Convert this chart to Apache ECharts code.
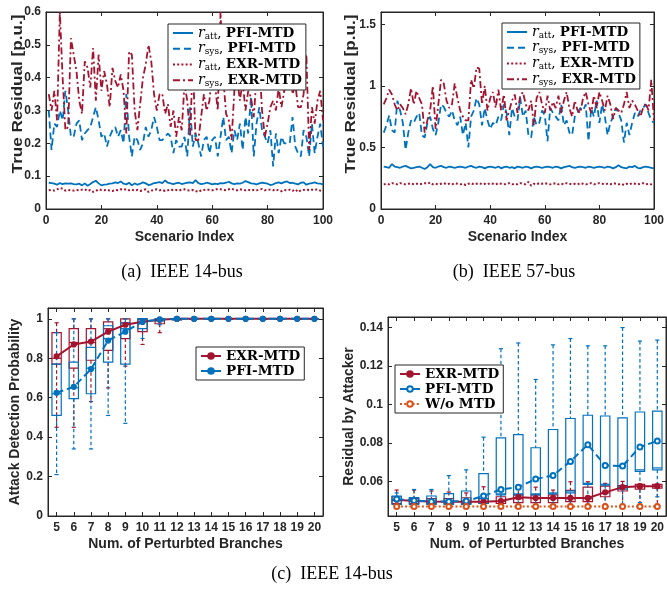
<!DOCTYPE html>
<html>
<head>
<meta charset="utf-8">
<script src="https://cdn.jsdelivr.net/npm/echarts@6/dist/echarts.min.js"></script>
<style>
  html, body { margin: 0; padding: 0; background: #fff; }
  #chart { width: 667px; height: 590px; }
</style>
</head>
<body>
<div id="chart"></div>
<script>
// ---------- (a) IEEE 14-bus: true residual per scenario ----------
const aPfiAtt = [
  0.080,0.079,0.077,0.074,0.079,0.076,0.078,0.077,0.078,0.076,
  0.075,0.077,0.072,0.078,0.071,0.076,0.082,0.086,0.078,0.072,
  0.074,0.075,0.077,0.078,0.081,0.079,0.084,0.077,0.075,0.080,
  0.072,0.078,0.074,0.077,0.081,0.078,0.073,0.075,0.079,0.080,
  0.082,0.079,0.087,0.080,0.078,0.076,0.079,0.080,0.076,0.078,
  0.080,0.081,0.079,0.088,0.079,0.076,0.077,0.080,0.078,0.075,
  0.077,0.076,0.079,0.078,0.080,0.083,0.078,0.076,0.078,0.077,
  0.080,0.085,0.082,0.078,0.077,0.075,0.078,0.080,0.079,0.077,
  0.073,0.075,0.079,0.081,0.078,0.082,0.084,0.079,0.080,0.077,
  0.075,0.080,0.081,0.074,0.077,0.079,0.081,0.078,0.077,0.075
];
const aPfiSys = [
  0.30,0.18,0.26,0.25,0.30,0.27,0.36,0.30,0.22,0.22,
  0.26,0.27,0.21,0.23,0.24,0.25,0.28,0.31,0.27,0.22,
  0.23,0.19,0.22,0.24,0.25,0.22,0.24,0.20,0.35,0.22,
  0.16,0.22,0.21,0.18,0.20,0.25,0.22,0.24,0.28,0.25,
  0.21,0.21,0.22,0.23,0.22,0.17,0.21,0.19,0.19,0.22,
  0.16,0.31,0.19,0.23,0.20,0.16,0.21,0.22,0.17,0.21,
  0.22,0.16,0.22,0.28,0.21,0.22,0.17,0.24,0.21,0.26,
  0.18,0.28,0.23,0.34,0.16,0.26,0.31,0.24,0.22,0.20,
  0.24,0.13,0.23,0.17,0.22,0.20,0.20,0.20,0.28,0.19,
  0.17,0.16,0.24,0.22,0.16,0.26,0.17,0.22,0.26,0.19
];
const aExrAtt = [
  0.057,0.058,0.056,0.060,0.064,0.062,0.056,0.058,0.057,0.056,
  0.058,0.057,0.059,0.060,0.055,0.058,0.052,0.055,0.060,0.058,
  0.057,0.059,0.056,0.055,0.058,0.057,0.060,0.058,0.061,0.057,
  0.059,0.056,0.058,0.055,0.057,0.060,0.052,0.056,0.058,0.060,
  0.057,0.058,0.055,0.057,0.060,0.057,0.058,0.056,0.059,0.060,
  0.057,0.056,0.058,0.055,0.052,0.057,0.058,0.060,0.058,0.057,
  0.059,0.061,0.060,0.058,0.057,0.060,0.062,0.058,0.057,0.060,
  0.058,0.057,0.059,0.056,0.058,0.057,0.059,0.061,0.057,0.058,
  0.059,0.057,0.060,0.056,0.054,0.058,0.057,0.059,0.055,0.060,
  0.052,0.057,0.058,0.060,0.057,0.059,0.058,0.060,0.056,0.054
];
const aExrSys = [
  0.35,0.30,0.36,0.27,0.60,0.40,0.24,0.25,0.52,0.47,
  0.42,0.33,0.29,0.45,0.43,0.37,0.49,0.33,0.47,0.36,
  0.42,0.38,0.31,0.43,0.39,0.37,0.41,0.36,0.23,0.48,
  0.47,0.30,0.24,0.32,0.40,0.44,0.50,0.45,0.35,0.30,
  0.35,0.35,0.29,0.32,0.25,0.30,0.22,0.28,0.24,0.38,
  0.33,0.22,0.45,0.21,0.21,0.28,0.35,0.30,0.33,0.42,
  0.38,0.30,0.60,0.40,0.29,0.27,0.21,0.36,0.40,0.33,
  0.39,0.30,0.36,0.34,0.28,0.40,0.45,0.30,0.22,0.26,
  0.31,0.33,0.30,0.37,0.31,0.36,0.38,0.44,0.35,0.38,
  0.31,0.31,0.35,0.47,0.18,0.31,0.26,0.33,0.36,0.27
];

// ---------- (b) IEEE 57-bus: true residual per scenario ----------
const bPfiAtt = [
  0.345,0.340,0.335,0.365,0.345,0.340,0.335,0.345,0.350,0.340,
  0.330,0.335,0.340,0.345,0.335,0.325,0.340,0.365,0.340,0.335,
  0.345,0.350,0.340,0.335,0.345,0.340,0.335,0.340,0.345,0.340,
  0.335,0.345,0.350,0.340,0.335,0.345,0.340,0.330,0.340,0.345,
  0.340,0.335,0.345,0.330,0.340,0.345,0.335,0.340,0.330,0.345,
  0.340,0.335,0.345,0.340,0.330,0.340,0.345,0.340,0.335,0.340,
  0.345,0.340,0.335,0.345,0.340,0.330,0.340,0.345,0.350,0.340,
  0.335,0.340,0.345,0.340,0.335,0.345,0.340,0.335,0.340,0.345,
  0.340,0.335,0.345,0.340,0.330,0.340,0.355,0.340,0.335,0.330,
  0.345,0.340,0.350,0.335,0.330,0.340,0.345,0.340,0.335,0.330
];
const bPfiSys = [
  0.62,0.68,0.76,0.64,0.62,0.88,0.80,0.70,0.48,0.62,
  0.72,0.70,0.75,0.78,0.60,0.58,0.70,0.75,0.65,0.60,
  0.70,0.85,0.83,0.78,0.75,0.80,0.72,0.68,0.75,0.60,
  0.70,0.50,0.75,0.80,0.90,0.85,0.68,0.82,0.72,0.65,
  0.70,0.68,0.75,0.72,0.85,0.78,0.60,0.82,0.75,0.72,
  0.90,0.75,0.80,0.60,0.58,0.75,0.68,0.70,0.80,0.76,
  0.55,0.82,0.78,0.75,0.72,0.85,0.68,0.72,0.62,0.60,
  0.75,0.78,0.82,0.80,0.85,0.55,0.82,0.75,0.88,0.70,
  0.85,0.75,0.60,0.70,0.75,0.82,0.78,0.72,0.54,0.70,
  0.60,0.70,0.78,0.75,0.80,0.82,0.85,0.78,0.72,0.70
];
const bExrAtt = [
  0.200,0.205,0.200,0.210,0.205,0.200,0.210,0.205,0.200,0.205,
  0.210,0.200,0.205,0.200,0.205,0.210,0.205,0.215,0.200,0.205,
  0.200,0.205,0.210,0.200,0.205,0.200,0.210,0.205,0.200,0.205,
  0.195,0.205,0.210,0.200,0.205,0.210,0.200,0.205,0.200,0.210,
  0.205,0.200,0.210,0.205,0.200,0.205,0.210,0.200,0.205,0.200,
  0.210,0.205,0.200,0.220,0.190,0.205,0.200,0.210,0.205,0.210,
  0.205,0.200,0.205,0.210,0.200,0.205,0.200,0.210,0.205,0.200,
  0.205,0.200,0.210,0.205,0.200,0.205,0.210,0.200,0.205,0.210,
  0.205,0.200,0.205,0.200,0.210,0.205,0.200,0.205,0.195,0.205,
  0.200,0.210,0.205,0.200,0.205,0.210,0.200,0.205,0.200,0.205
];
const bExrSys = [
  0.85,0.90,0.97,0.93,0.85,0.80,0.85,0.82,0.77,0.85,
  0.98,0.85,0.96,0.90,0.85,0.62,0.72,0.80,1.00,0.65,
  0.85,1.05,1.02,0.88,0.82,0.85,1.02,0.90,0.80,0.75,
  0.72,0.72,1.05,0.98,1.15,1.14,0.85,1.00,0.80,0.90,
  0.95,0.82,0.97,0.80,0.93,0.72,0.80,0.88,0.93,0.78,
  0.92,0.95,0.85,0.80,0.88,0.68,0.90,0.95,0.85,0.78,
  0.92,0.80,0.87,0.82,0.92,0.78,0.88,0.95,0.82,0.75,
  0.88,0.80,0.78,0.90,0.95,0.85,0.78,0.92,0.82,0.95,
  0.88,0.80,0.92,0.85,0.73,0.82,0.80,0.78,0.85,0.95,
  0.82,0.88,0.85,0.80,0.75,0.82,0.86,0.80,1.05,0.72
];

// ---------- (c) IEEE 14-bus: detection probability / attacker residual ----------
const branchCounts = ['5','6','7','8','9','10','11','12','13','14','15','16','17','18','19','20'];

// box rows: [lower whisker, q1, median, q3, upper whisker]
const cExrBox = [
  [0.45,0.77,0.80,0.93,0.98],[0.45,0.75,0.88,0.95,1.00],[0.58,0.79,0.88,0.95,1.00],
  [0.65,0.84,0.95,0.985,1.00],[0.76,0.90,0.98,1.00,1.00],[0.87,0.935,1.00,1.00,1.00],
  [0.93,0.975,1.00,1.00,1.00],[0.99,0.995,1.00,1.00,1.00],[1,1,1,1,1],[1,1,1,1,1],
  [1,1,1,1,1],[1,1,1,1,1],[1,1,1,1,1],[1,1,1,1,1],[1,1,1,1,1],[1,1,1,1,1]
];
const cPfiBox = [
  [0.21,0.51,0.62,0.77,0.93],[0.34,0.595,0.65,0.78,1.00],[0.34,0.62,0.75,0.855,1.00],
  [0.51,0.78,0.90,0.965,1.00],[0.47,0.77,0.95,0.98,1.00],[0.90,0.95,1.00,1.00,1.00],
  [0.97,0.99,1.00,1.00,1.00],[0.99,0.995,1.00,1.00,1.00],[1,1,1,1,1],[1,1,1,1,1],
  [1,1,1,1,1],[1,1,1,1,1],[1,1,1,1,1],[1,1,1,1,1],[1,1,1,1,1],[1,1,1,1,1]
];
const cExrMean = [0.81,0.87,0.885,0.935,0.97,0.985,0.995,1,1,1,1,1,1,1,1,1];
const cPfiMean = [0.625,0.655,0.745,0.89,0.935,0.985,0.997,1,1,1,1,1,1,1,1,1];

const dExrBox = [
  [0.048,0.0485,0.0500,0.0520,0.0555],[0.048,0.0485,0.0495,0.0510,0.0555],
  [0.048,0.0485,0.0495,0.0510,0.0550],[0.048,0.0485,0.0495,0.0510,0.0545],
  [0.048,0.0485,0.0495,0.0515,0.0540],[0.048,0.0485,0.0495,0.0510,0.0572],
  [0.048,0.0485,0.0495,0.0520,0.0568],[0.048,0.0490,0.0510,0.0530,0.0582],
  [0.048,0.0490,0.0510,0.0530,0.0570],[0.048,0.0490,0.0510,0.0530,0.0555],
  [0.048,0.0495,0.0510,0.0553,0.0598],[0.048,0.0495,0.0510,0.0570,0.0598],
  [0.048,0.0520,0.0540,0.0575,0.0590],[0.048,0.0550,0.0570,0.0578,0.0600],
  [0.048,0.0560,0.0575,0.0585,0.0585],[0.048,0.0565,0.0575,0.0585,0.0585]
];
const dPfiBox = [
  [0.0475,0.0480,0.0505,0.0524,0.0540],[0.0475,0.0480,0.0495,0.0516,0.0558],
  [0.0475,0.0480,0.0495,0.0524,0.0558],[0.0475,0.0480,0.0495,0.0536,0.0630],
  [0.0475,0.0480,0.0495,0.0550,0.0660],[0.0475,0.0485,0.0510,0.0640,0.0830],
  [0.0480,0.0530,0.0535,0.0826,0.1290],[0.0480,0.0530,0.0535,0.0843,0.1320],
  [0.0480,0.0530,0.0535,0.0775,0.1130],[0.0480,0.0535,0.0540,0.0870,0.1310],
  [0.0480,0.0540,0.0550,0.0927,0.1343],[0.0480,0.0584,0.0590,0.0944,0.1305],
  [0.0480,0.0580,0.0585,0.0940,0.1305],[0.0480,0.0560,0.0570,0.0930,0.1400],
  [0.0490,0.0652,0.0660,0.0961,0.1330],[0.0520,0.0660,0.0670,0.0965,0.1335]
];
const dExrMean = [0.0505,0.0498,0.0495,0.0494,0.0494,0.0494,0.0498,0.0518,0.0513,0.0514,0.0514,0.0514,0.0543,0.0570,0.0575,0.0575];
const dPfiMean = [0.0508,0.0500,0.0496,0.0496,0.0498,0.0524,0.0558,0.0570,0.0612,0.0631,0.0704,0.0791,0.0683,0.0680,0.0779,0.0810];
const dNoMtd  = [0.047,0.047,0.047,0.047,0.047,0.047,0.047,0.047,0.047,0.047,0.047,0.047,0.047,0.047,0.047,0.047];

// ---------- styling ----------
const BLUE = '#0072BD', RED = '#A2142F', ORANGE = '#D95319', INK = '#262626';
const SANS = '"Liberation Sans", Arial, sans-serif';
const SERIF = '"DejaVu Serif", serif';

const grids = [
  { left: 46,  top: 12,  width: 277, height: 197 },
  { left: 381, top: 12,  width: 277, height: 197 },
  { left: 48,  top: 308, width: 275, height: 208 },
  { left: 388, top: 317, width: 278, height: 199 }
].map(g => Object.assign({ show: true, borderColor: INK, borderWidth: 1, backgroundColor: '#fff' }, g));

function ticks(cat) {
  return { show: true, inside: true, length: 4, alignWithLabel: !!cat, interval: 0, lineStyle: { color: INK, width: 1 } };
}
const axisLine = { show: true, onZero: false, lineStyle: { color: INK, width: 1 } };
const tickFont = { color: INK, fontFamily: SANS, fontWeight: 'bold', fontSize: 12 };
const titleFont = { color: INK, fontFamily: SANS, fontWeight: 'bold', fontSize: 14 };

function xAxes(gi, scale, cat, name, nameGap) {
  return [
    Object.assign({ gridIndex: gi, position: 'bottom', axisLine, axisTick: ticks(cat),
      axisLabel: Object.assign({ margin: 6, interval: 0 }, tickFont), splitLine: { show: false },
      name, nameLocation: 'middle', nameGap, nameTextStyle: titleFont }, scale),
    Object.assign({ gridIndex: gi, position: 'top', axisLine, axisTick: ticks(cat),
      axisLabel: { show: false }, splitLine: { show: false } }, scale)
  ];
}
function yAxes(gi, scale, labelExtra, name, nameGap) {
  const left = Object.assign({ gridIndex: gi, position: 'left', axisLine, axisTick: ticks(false),
    axisLabel: Object.assign({ margin: 5 }, tickFont, labelExtra || {}), splitLine: { show: false } }, scale);
  if (name) Object.assign(left, { name, nameLocation: 'middle', nameGap, nameTextStyle: titleFont });
  return [left,
    Object.assign({ gridIndex: gi, position: 'right', axisLine, axisTick: ticks(false),
      axisLabel: { show: false }, splitLine: { show: false } }, scale)];
}

const xAxis = [].concat(
  xAxes(0, { type: 'value', min: 0, max: 100, interval: 20 }, false, 'Scenario Index', 21),
  xAxes(1, { type: 'value', min: 0, max: 100, interval: 20 }, false, 'Scenario Index', 21),
  xAxes(2, { type: 'category', data: branchCounts, boundaryGap: true }, true, 'Num. of Perturbted Branches', 21),
  xAxes(3, { type: 'category', data: branchCounts, boundaryGap: true }, true, 'Num. of Perturbted Branches', 21)
);
const yAxis = [].concat(
  yAxes(0, { type: 'value', min: 0, max: 0.6, interval: 0.1 }),
  yAxes(1, { type: 'value', min: 0, max: 1.6, interval: 0.5 }, { showMaxLabel: false }),
  yAxes(2, { type: 'value', min: 0, max: 1.055, interval: 0.2 }, { showMaxLabel: false },
        'Attack Detection Probability', 24),
  yAxes(3, { type: 'value', min: 0.042, max: 0.1455, minInterval: 0.02, maxInterval: 0.02 },
        { showMinLabel: false, showMaxLabel: false }, 'Residual by Attacker', 30)
);

const pairs = arr => arr.map((v, i) => [i + 1, v]);

function scenarioLine(name, gi, arr, color, type, width) {
  return { type: 'line', name, xAxisIndex: gi * 2, yAxisIndex: gi * 2, data: pairs(arr),
    symbol: 'none', showSymbol: false, clip: true, silent: true,
    lineStyle: { color, width: width || 1.8, type }, itemStyle: { color } };
}

// Box-and-whisker outlines: solid box and median, dashed whiskers, short solid caps.
function boxRenderer(color) {
  return function (params, api) {
    const i = api.value(0);
    const pt = k => api.coord([i, api.value(k)]);
    const lo = pt(1), q1 = pt(2), md = pt(3), q3 = pt(4), hi = pt(5);
    const band = api.size([1, 0])[0];
    const half = band * 0.27, cap = band * 0.12, cx = lo[0];
    const solid = { stroke: color, lineWidth: 1.2 };
    const dashed = { stroke: color, lineWidth: 1.2, lineDash: [3.5, 2.5] };
    return { type: 'group', children: [
      { type: 'line', shape: { x1: cx, y1: hi[1], x2: cx, y2: q3[1] }, style: dashed },
      { type: 'line', shape: { x1: cx, y1: q1[1], x2: cx, y2: lo[1] }, style: dashed },
      { type: 'line', shape: { x1: cx - cap, y1: hi[1], x2: cx + cap, y2: hi[1] }, style: solid },
      { type: 'line', shape: { x1: cx - cap, y1: lo[1], x2: cx + cap, y2: lo[1] }, style: solid },
      { type: 'rect', shape: { x: cx - half, y: q3[1], width: 2 * half, height: q1[1] - q3[1] },
        style: { stroke: color, lineWidth: 1.2, fill: 'none' } },
      { type: 'line', shape: { x1: cx - half, y1: md[1], x2: cx + half, y2: md[1] }, style: solid }
    ] };
  };
}
function boxSeries(gi, rows, color) {
  return { type: 'custom', xAxisIndex: gi * 2, yAxisIndex: gi * 2, silent: true,
    data: rows.map((b, i) => [i].concat(b)),
    encode: { x: 0, y: [1, 2, 3, 4, 5] },
    renderItem: boxRenderer(color) };
}
function meanLine(name, gi, arr, color, type, symbol) {
  return { type: 'line', name, xAxisIndex: gi * 2, yAxisIndex: gi * 2, data: arr, silent: true,
    symbol, symbolSize: 5, showSymbol: true,
    lineStyle: { color, width: 2, type }, itemStyle: { color, borderColor: color, borderWidth: 1.2 } };
}

const series = [
  scenarioLine('a1', 0, aPfiAtt, BLUE, 'solid'),
  scenarioLine('a2', 0, aPfiSys, BLUE, [7, 4]),
  scenarioLine('a3', 0, aExrAtt, RED, [2, 2.2], 2),
  scenarioLine('a4', 0, aExrSys, RED, [7, 3, 2, 3]),
  scenarioLine('b1', 1, bPfiAtt, BLUE, 'solid'),
  scenarioLine('b2', 1, bPfiSys, BLUE, [7, 4]),
  scenarioLine('b3', 1, bExrAtt, RED, [2, 2.2], 2),
  scenarioLine('b4', 1, bExrSys, RED, [7, 3, 2, 3]),
  boxSeries(2, cExrBox, RED),
  boxSeries(2, cPfiBox, BLUE),
  meanLine('cE', 2, cExrMean, RED, 'solid', 'circle'),
  meanLine('cP', 2, cPfiMean, BLUE, [7, 4], 'circle'),
  boxSeries(3, dExrBox, RED),
  boxSeries(3, dPfiBox, BLUE),
  meanLine('dE', 3, dExrMean, RED, 'solid', 'circle'),
  meanLine('dP', 3, dPfiMean, BLUE, [7, 4], 'emptyCircle'),
  meanLine('dW', 3, dNoMtd, ORANGE, [2, 2.2], 'emptyCircle')
];

// ---------- legends ----------
const legendText = {
  a1: ['att', 'PFI-MTD'], a2: ['sys', 'PFI-MTD'], a3: ['att', 'EXR-MTD'], a4: ['sys', 'EXR-MTD'],
  b1: ['att', 'PFI-MTD'], b2: ['sys', 'PFI-MTD'], b3: ['att', 'EXR-MTD'], b4: ['sys', 'EXR-MTD'],
  cE: [null, 'EXR-MTD'], cP: [null, 'PFI-MTD'],
  dE: [null, 'EXR-MTD'], dP: [null, 'PFI-MTD'], dW: [null, 'W/o MTD']
};
const legendRich = {
  r: { fontFamily: SERIF, fontStyle: 'italic', fontSize: 14, color: '#000', lineHeight: 15.5 },
  s: { fontFamily: SERIF, fontSize: 9, color: '#000', verticalAlign: 'bottom', lineHeight: 15.5, padding: [4, 0, 0, 0] },
  c: { fontFamily: SERIF, fontSize: 13.5, color: '#000', lineHeight: 15.5 },
  t: { fontFamily: SERIF, fontWeight: 'bold', fontSize: 13.5, color: '#000', lineHeight: 15.5 }
};
function legendFormat(name) {
  const [sub, method] = legendText[name];
  return sub ? `{r|r}{s|${sub}}{c|, }{t|${method}}` : `{t|${method}}`;
}
function legend(names, left, top, extra) {
  return Object.assign({
    orient: 'vertical', left, top, data: names, selectedMode: false,
    backgroundColor: '#fff', borderColor: INK, borderWidth: 1, borderRadius: 0,
    padding: [2, 4, 2, 4], itemGap: 1, itemWidth: 20, itemHeight: 7,
    formatter: legendFormat,
    textStyle: { rich: legendRich, fontFamily: SERIF, fontSize: 13.5 }
  }, extra || {});
}
const hideMarker = { itemStyle: { color: 'transparent', borderColor: 'transparent', borderWidth: 0 } };
const legends = [
  legend(['a1', 'a2', 'a3', 'a4'], 168, 24, hideMarker),
  legend(['b1', 'b2', 'b3', 'b4'], 502, 23, hideMarker),
  legend([{ name: 'cE' }, { name: 'cP', lineStyle: { type: 'solid' } }], 196, 347),
  legend([{ name: 'dE' }, { name: 'dP', lineStyle: { type: 'solid' } }, { name: 'dW' }], 395, 365)
];

// ---------- free text: rotated residual titles and panel captions ----------
const stretchedTitle = (x, text) => ({
  type: 'text', x, y: 94, rotation: Math.PI / 2, scaleX: 1.18, silent: true,
  style: { text, fill: INK, fontFamily: SANS, fontWeight: 'bold', fontSize: 14.5, align: 'center', verticalAlign: 'middle' }
});
const caption = (x, y, text) => ({
  type: 'text', x, y, silent: true,
  style: { text, fill: '#000', fontFamily: '"Liberation Serif", serif', fontSize: 18, align: 'center', verticalAlign: 'middle' }
});

const chart = echarts.init(document.getElementById('chart'), null, { renderer: 'canvas' });
chart.setOption({
  animation: false,
  backgroundColor: '#fff',
  grid: grids,
  xAxis,
  yAxis,
  legend: legends,
  series,
  graphic: [
    stretchedTitle(18, 'True Residual [p.u.]'),
    stretchedTitle(351, 'True Residual [p.u.]'),
    caption(182, 272, '(a)  IEEE 14-bus'),
    caption(514, 272, '(b)  IEEE 57-bus'),
    caption(332, 574, '(c)  IEEE 14-bus')
  ]
});
</script>
</body>
</html>
